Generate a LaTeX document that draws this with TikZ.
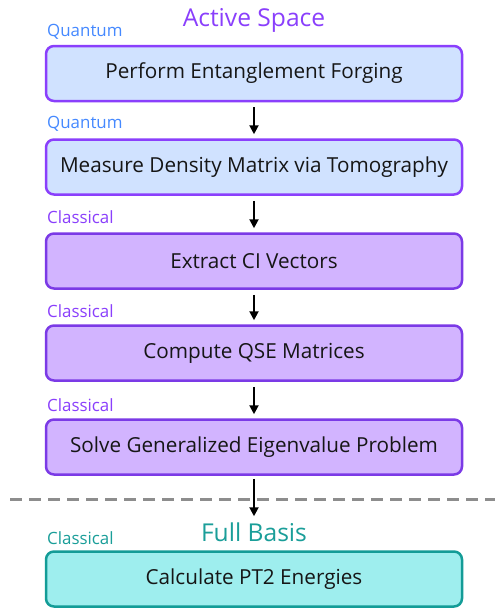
\documentclass[tikz,border=0pt]{standalone}
\usepackage{fontspec}
\setmainfont{Open Sans}
\usetikzlibrary{arrows.meta}
\definecolor{qblue}{HTML}{4589FF}
\definecolor{apurple}{HTML}{8A3FFC}
\definecolor{bpurple}{HTML}{7B3AE6}
\definecolor{lblue}{HTML}{D0E2FF}
\definecolor{lpurple}{HTML}{D2B4FF}
\definecolor{tealtxt}{HTML}{1A9E99}
\definecolor{tealborder}{HTML}{139C97}
\definecolor{lteal}{HTML}{9EEEEE}
\definecolor{dashgray}{HTML}{8D8D8D}
\definecolor{txtdark}{HTML}{161616}
\begin{document}
\begin{tikzpicture}[x=1pt,y=-1pt,
  boxbase/.style={rounded corners=8pt, line width=2.5pt, minimum width=416pt, minimum height=55pt,
    inner sep=0pt, text=txtdark, font=\fontsize{20.7}{24}\selectfont},
  qbox/.style={boxbase, draw=apurple, fill=lblue},
  cbox/.style={boxbase, draw=bpurple, fill=lpurple},
  tbox/.style={boxbase, draw=tealborder, fill=lteal},
  tag/.style={anchor=west, inner sep=0pt, font=\fontsize{16.9}{20}\selectfont},
  head/.style={inner sep=0pt, font=\fontsize{24.6}{28}\selectfont},
  arr/.style={line width=2pt, draw=black, -{Triangle[length=9pt,width=9pt]}}
]
\useasboundingbox (0,0) rectangle (495,608);
\fill[white] (0,0) rectangle (495,608);

\node[head, text=apurple] (hact) at (254,20) {Active Space};
\node[tag, text=qblue] (t1) at (47,32) {Quantum};
\node[qbox] (b1) at (254,73.5) {Perform Entanglement Forging};
\node[tag, text=qblue] (t2) at (47,124) {Quantum};
\node[qbox] (b2) at (254,167) {Measure Density Matrix via Tomography};
\node[tag, text=apurple] (t3) at (47,217) {Classical};
\node[cbox] (b3) at (254,261) {Extract CI Vectors};
\node[tag, text=apurple] (t4) at (47,311) {Classical};
\node[cbox] (b4) at (254,353) {Compute QSE Matrices};
\node[tag, text=apurple] (t5) at (47,405) {Classical};
\node[cbox] (b5) at (254,447) {Solve Generalized Eigenvalue Problem};

\coordinate (dl) at (10,499);
\coordinate (dr) at (495,499);
\draw[dashgray, line width=3pt, dash pattern=on 12pt off 7pt] (dl) -- (dr);

\node[head, text=tealtxt] (hfull) at (254,532) {Full Basis};
\node[tag, text=tealtxt] (t6) at (47,538) {Classical};
\node[tbox] (b6) at (254,579) {Calculate PT2 Energies};

\draw[arr, shorten <=5pt, shorten >=4pt] (b1) -- (b2);
\draw[arr, shorten <=5pt, shorten >=4pt] (b2) -- (b3);
\draw[arr, shorten <=5pt, shorten >=4pt] (b3) -- (b4);
\draw[arr, shorten <=5pt, shorten >=4pt] (b4) -- (b5);
\draw[arr, shorten <=3pt, shorten >=34pt] (b5) -- (b6);
\end{tikzpicture}
\end{document}
